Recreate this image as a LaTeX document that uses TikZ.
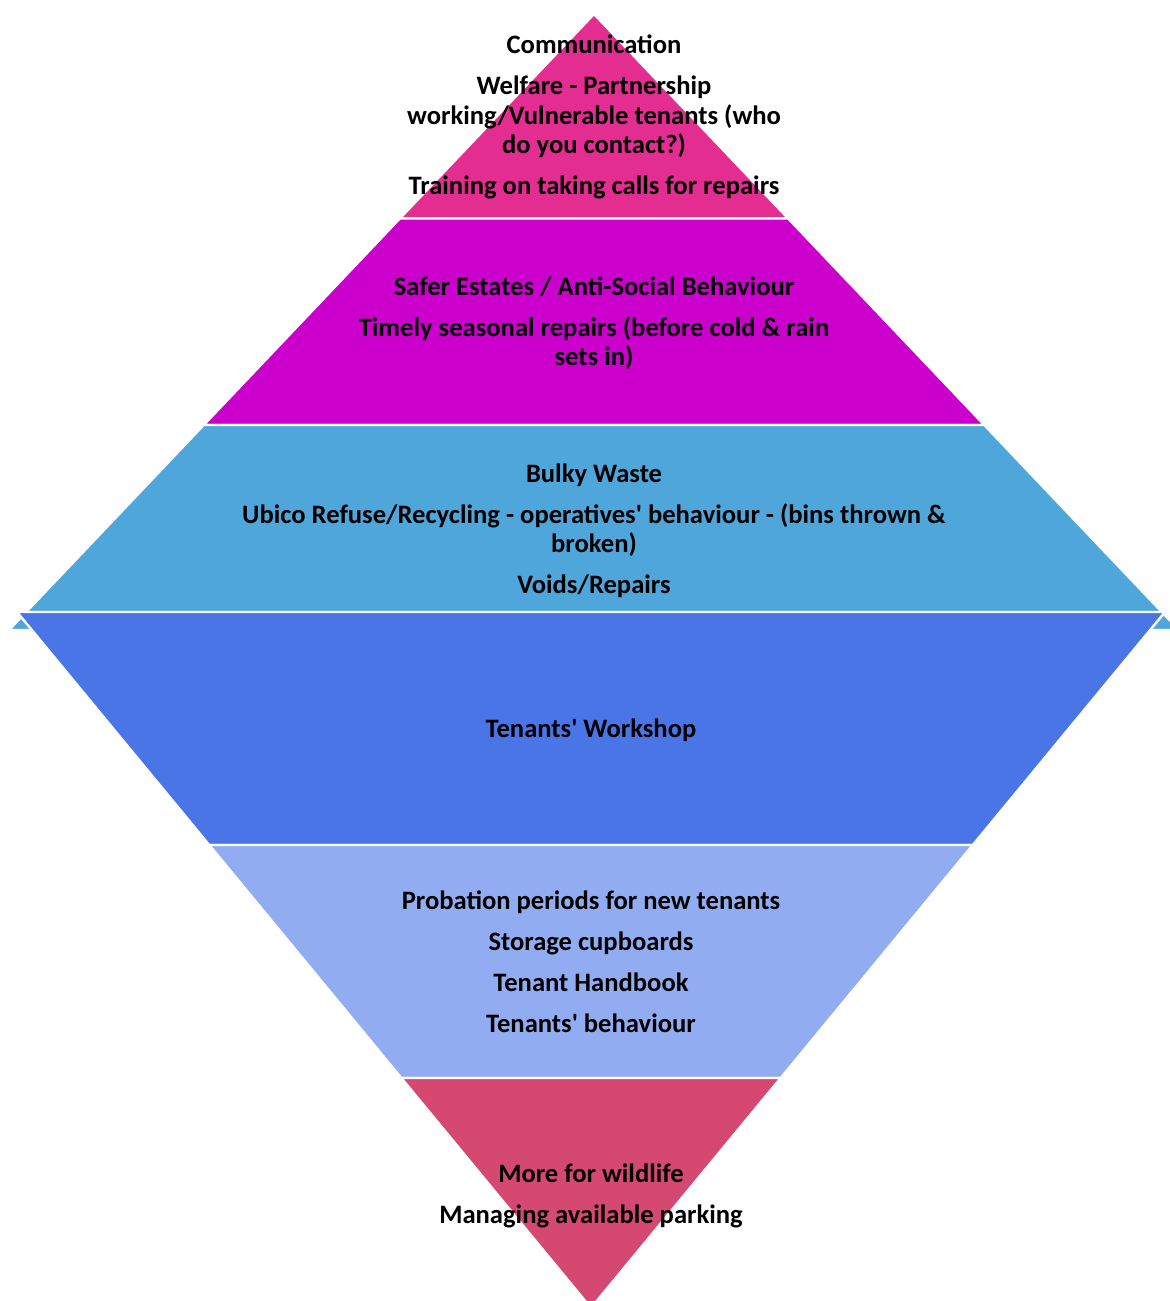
\documentclass[tikz,border=0pt]{standalone}
\usepackage{fontspec}
\setmainfont{Carlito}
\definecolor{bandpink}{HTML}{E32D91}
\definecolor{bandmagenta}{HTML}{CC00CC}
\definecolor{bandsky}{HTML}{4FA6DB}
\definecolor{bandblue}{HTML}{4A75E6}
\definecolor{bandlight}{HTML}{91ACF0}
\definecolor{bandrose}{HTML}{D44872}
\newcommand{\apos}{\textquotesingle}

\begin{document}
\begin{tikzpicture}[x=0.5pt,y=-0.5pt,
	band/.style={draw=white, line width=1.2pt},
	txt/.style={align=center, text=black, font=\bfseries\fontsize{13.3}{14.7}\selectfont}]
	\useasboundingbox (0,0) rectangle (1169,1301);
	
	%upper pyramid
	\filldraw[band, fill=bandpink] (594,14) -- (788.2,218.5) -- (399.8,218.5) -- cycle;
	\filldraw[band, fill=bandmagenta] (399.8,218.5) -- (788.2,218.5) -- (984.3,425) -- (203.7,425) -- cycle;
	\filldraw[band, fill=bandsky] (203.7,425) -- (984.3,425) -- (1179,630) -- (9,630) -- cycle;
	
	%lower pyramid
	\filldraw[band, fill=bandblue] (17,612) -- (1165,612) -- (972.8,845) -- (209.2,845) -- cycle;
	\filldraw[band, fill=bandlight] (209.2,845) -- (972.8,845) -- (780.7,1078) -- (401.3,1078) -- cycle;
	\filldraw[band, fill=bandrose] (401.3,1078) -- (780.7,1078) -- (591,1308) -- cycle;
	
	%labels
	\node[txt] (top) at (594,117) {Communication\\[5.75pt] Welfare - Partnership\\ working/Vulnerable tenants (who\\ do you contact?)\\[5.75pt] Training on taking calls for repairs};
	\node[txt] (safer) at (594,323) {Safer Estates / Anti-Social Behaviour\\[5.75pt] Timely seasonal repairs (before cold \& rain\\ sets in)};
	\node[txt] (waste) at (594,531) {Bulky Waste\\[5.75pt] Ubico Refuse/Recycling - operatives\apos{} behaviour - (bins thrown \&\\ broken)\\[5.75pt] Voids/Repairs};
	\node[txt] (workshop) at (591,730) {Tenants\apos{} Workshop};
	\node[txt] (tenants) at (591,962) {Probation periods for new tenants\\[5.75pt] Storage cupboards\\[5.75pt] Tenant Handbook\\[5.75pt] Tenants\apos{} behaviour};
	\node[txt] (wildlife) at (591,1196) {More for wildlife\\[5.75pt] Managing available parking};
\end{tikzpicture}
\end{document}
